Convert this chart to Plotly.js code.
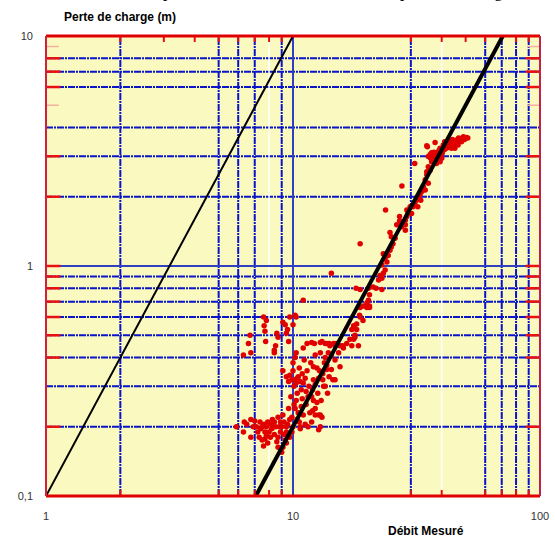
<!DOCTYPE html>
<html><head><meta charset="utf-8">
<script src="https://cdn.plot.ly/plotly-3.0.1.min.js"></script>
<style>html,body{margin:0;padding:0;background:#fff;}#chart{width:555px;height:537px;}</style>
</head><body><div id="chart"></div>
<script>
// ---- data ----
const xTickVals = [1, 10, 100];
const xTickText = ["1", "10", "100"];
const yTickVals = [0.1, 1, 10];
const yTickText = ["0,1", "1", "10"];

const xGridDashed = [2, 5, 6, 7, 9, 30, 60, 70, 80, 90];
const xGridSolid = [10];
const xGridWhite = [8, 40];
const yGridDashed = [0.2, 0.3, 0.4, 0.5, 0.6, 0.7, 0.8, 0.9, 2, 3, 4, 6, 7, 8];
const yGridSolid = [1];

const xTicksBottom = [2, 5, 6, 7, 8, 9, 30, 40, 60, 70, 80, 90];
const xTicksTop = [2, 3, 4, 5, 6, 7, 8, 9, 30, 40, 50, 60, 80, 90];
const yTicksSide = [0.2, 0.4, 0.5, 0.6, 0.7, 0.8, 0.9, 1, 2, 3, 6, 7, 8];
const yTicksFaint = [5, 9];

// reference curves
const curveA_x = [1, 10];
const curveA_y = [0.1, 10];
const curveB_x = [7.07, 70.7];
const curveB_y = [0.1, 10];

// measured points [débit, perte de charge]
const mesures = [
 [5.9,0.2],[6.3,0.19],[6.35,0.21],[6.75,0.215],[6.75,0.18],[7.1,0.2],[7.35,0.21],[7.4,0.196],[7.64,0.205],[7.7,0.19],
 [7.8,0.2],[8.1,0.205],[8.2,0.196],[8.4,0.21],[8.7,0.22],[8.9,0.21],[9.0,0.2],[9.1,0.225],[8.3,0.2],[7.3,0.18],
 [7.5,0.175],[7.7,0.177],[7.8,0.183],[7.6,0.165],[8.1,0.18],[8.6,0.172],[8.7,0.18],[8.7,0.163],[9.0,0.155],[9.1,0.163],
 [9.3,0.175],[9.9,0.19],[9.7,0.18],[9.6,0.186],[8.9,0.19],[7.9,0.21],[6.9,0.2],[7.2,0.19],[8.5,0.2],[9.4,0.19],[9.2,0.21],[8.0,0.19],
 [6.5,0.205],[7.0,0.212],[7.5,0.2],[8.25,0.215],[8.8,0.2],[9.5,0.205],[9.2,0.185],[8.4,0.185],[7.9,0.17],[9.4,0.17],
 [6.7,0.5],[6.6,0.46],[6.75,0.42],[6.3,0.41],[7.64,0.55],[7.8,0.58],[7.7,0.52],[7.75,0.47],[8.6,0.51],[8.4,0.43],
 [8.7,0.49],[9.1,0.57],[9.3,0.555],[9.4,0.51],[9.6,0.47],[10.2,0.61],[10.0,0.555],[8.4,0.42],[10.3,0.6],[8.5,0.45],
 [9.5,0.53],[7.6,0.6],[9.7,0.6],
 [12.1,0.365],[11.4,0.35],[11.2,0.325],[12.1,0.32],[12.7,0.325],[13.3,0.3],[12.3,0.305],[10.8,0.29],[11.5,0.27],[12.1,0.26],
 [12.3,0.24],[10.8,0.245],[11.0,0.225],[12.7,0.225],[13.1,0.22],[12.9,0.2],[11.9,0.21],[11.2,0.205],[10.3,0.26],[10.2,0.24],
 [9.9,0.22],[9.7,0.215],[9.4,0.2],[10.0,0.2],[10.7,0.196],[10.2,0.32],[10.3,0.31],[9.6,0.315],[9.9,0.32],[9.4,0.33],
 [10.0,0.35],[10.2,0.4],[10.0,0.38],[9.1,0.35],[13.7,0.37],[14.3,0.355],[14.5,0.32],[14.8,0.39],
 [11.4,0.46],[11.9,0.465],[12.2,0.46],[12.9,0.465],[13.5,0.46],[14.0,0.46],[11.0,0.44],[10.3,0.42],[12.3,0.41],[12.9,0.42],[13.5,0.4],
 [14.8,0.32],[13.7,0.355],[13.5,0.3],[12.7,0.194],[10.7,0.2],[12.3,0.225],[12.9,0.225],[15.5,0.365],[14.8,0.45],[15.3,0.42],[14.3,0.41],[13.9,0.42],
 [10.5,0.33],[10.9,0.34],[11.6,0.3],[12.6,0.28],[13.0,0.26],[11.3,0.25],[10.5,0.23],[11.8,0.38],[10.6,0.36],[12.5,0.36],
 [13.2,0.34],[11.0,0.31],[10.4,0.28],[9.8,0.27],[10.1,0.25],[12.0,0.29],[13.8,0.28],[11.7,0.23],[10.6,0.21],[13.4,0.38],[11.1,0.39],
 [10.4,0.325],[10.7,0.315],[9.7,0.335],[10.1,0.3],[11.3,0.285],[11.9,0.27],[12.5,0.255],[10.9,0.265],[9.6,0.24],[10.4,0.215],
 [11.5,0.2],[12.0,0.235],[13.2,0.32],[12.8,0.35],[14.0,0.33],
 [11.0,0.71],
 [15.5,0.45],[15.9,0.45],[15.0,0.46],[14.6,0.46],[14.1,0.45],[13.7,0.46],[13.1,0.47],[18.4,0.45],[17.3,0.45],[16.5,0.46],
 [17.0,0.48],[17.6,0.48],[17.8,0.5],[17.3,0.53],[18.1,0.53],[17.6,0.55],[18.1,0.56],[19.2,0.58],[18.6,0.61],[18.7,0.6],
 [19.3,0.67],[18.7,0.66],[19.9,0.66],[20.4,0.66],[19.9,0.69],[20.2,0.71],[20.4,0.75],[20.2,0.8],[21.1,0.81],[21.7,0.8],
 [22.9,0.79],[18.0,0.8],[18.7,0.79],[17.8,0.49],[16.0,0.44],[20.4,0.67],[14.3,0.93],[18.7,1.25],
 [22.2,0.87],[22.9,0.885],[22.5,0.91],[23.2,0.93],[23.6,0.96],[22.9,1.01],[24.0,1.04],[23.6,1.08],[24.3,1.11],[23.2,1.13],
 [24.7,1.17],[25.0,1.21],[25.4,1.25],[25.9,1.32],[25.0,1.34],[24.7,1.4],[28.5,1.43],[26.3,1.51],[28.5,1.51],[27.0,1.57],
 [27.5,1.54],[27.0,1.64],[23.7,1.75],[28.9,1.75],[29.8,1.81],[31.1,1.87],[32.0,1.81],[31.6,1.93],
 [28.0,1.53],[27.5,1.48],[28.5,1.58],[28.9,1.64],[29.2,1.69],[30.2,1.69],[30.6,1.81],[31.1,1.9],[32.1,1.97],[32.9,1.93],
 [32.7,2.04],[33.2,2.11],[34.3,2.14],[33.7,2.22],[35.3,2.29],[34.3,2.37],[34.8,2.49],[34.8,2.57],[35.9,2.61],[35.3,2.7],
 [36.4,2.84],[31.1,2.79],[27.6,2.23],
 [38.1,2.79],[39.4,2.84],[40.0,2.94],[37.6,2.94],[38.8,2.99],[35.3,2.99],[35.9,3.05],[36.9,3.05],[38.1,3.11],[36.4,3.11],
 [34.8,3.33],[37.6,3.44],[35.0,3.3],[41.1,3.47],[43.1,3.41],[44.5,3.36],[45.9,3.53],[47.4,3.58],[48.8,3.62],[50.4,3.62],
 [46.6,3.36],[45.2,3.25],[43.8,3.25],[42.4,3.3],[48.1,3.47],[41.8,3.25],[39.4,3.25],[40.6,3.36],[44.0,3.5],[46.0,3.45],
 [49.5,3.55],[42.0,3.38],[47.0,3.5],[43.0,3.32],[45.0,3.42],[38.5,3.0],[39.5,3.05],[37.0,3.0],[49.0,3.65],[51.0,3.6],[44.8,3.3],[41.0,3.2],
 [36.0,2.95],[37.2,3.12],[39.0,3.18],[40.2,3.1],[42.8,3.45],[46.8,3.6],[44.2,3.55]
];
const debit = mesures.map(p => p[0]);
const perte = mesures.map(p => p[1]);

// ---- styling ----
const shapes = [];
const gridBlue = '#0A14C8';
const dashPattern = '7px,1px,2px,1px';
xGridDashed.forEach(v => shapes.push({type:'line', layer:'below', xref:'x', yref:'paper', x0:v, x1:v, y0:0, y1:1, line:{color:gridBlue, width:2, dash:dashPattern}}));
yGridDashed.forEach(v => shapes.push({type:'line', layer:'below', xref:'paper', yref:'y', x0:0, x1:1, y0:v, y1:v, line:{color:gridBlue, width:2, dash:dashPattern}}));
xGridWhite.forEach(v => shapes.push({type:'line', layer:'below', xref:'x', yref:'paper', x0:v, x1:v, y0:0, y1:1, line:{color:'#FFFFFF', width:1.5}}));
xGridSolid.forEach(v => shapes.push({type:'line', layer:'below', xref:'x', yref:'paper', x0:v, x1:v, y0:0, y1:1, line:{color:'#3040C0', width:2}}));
yGridSolid.forEach(v => shapes.push({type:'line', layer:'below', xref:'paper', yref:'y', x0:0, x1:1, y0:v, y1:v, line:{color:'#3040C0', width:2}}));

const tkX = 6/460, tkY = 8/494;
xTicksBottom.forEach(v => shapes.push({type:'line', xref:'x', yref:'paper', x0:v, x1:v, y0:0, y1:tkX, line:{color:'#E81010', width:2}}));
xTicksTop.forEach(v => shapes.push({type:'line', xref:'x', yref:'paper', x0:v, x1:v, y0:1, y1:1-tkX, line:{color:'#E81010', width:2}}));
yTicksSide.forEach(v => {
  shapes.push({type:'line', xref:'paper', yref:'y', x0:0, x1:tkY*1.8, y0:v, y1:v, line:{color:'#E81010', width:2.5}});
  shapes.push({type:'line', xref:'paper', yref:'y', x0:1, x1:1-tkY*1.8, y0:v, y1:v, line:{color:'#E81010', width:2.5}});
});
yTicksFaint.forEach(v => {
  shapes.push({type:'line', xref:'paper', yref:'y', x0:0, x1:tkY*1.6, y0:v, y1:v, line:{color:'#F4B0A0', width:1.5}});
  shapes.push({type:'line', xref:'paper', yref:'y', x0:1, x1:1-tkY*1.6, y0:v, y1:v, line:{color:'#F4B0A0', width:1.5}});
});
// frame
shapes.push({type:'line', xref:'paper', yref:'paper', x0:0, x1:1, y0:0, y1:0, line:{color:'#E00000', width:3}});
shapes.push({type:'line', xref:'paper', yref:'paper', x0:0, x1:1, y0:1, y1:1, line:{color:'#E00000', width:3}});
shapes.push({type:'line', xref:'paper', yref:'paper', x0:0, x1:0, y0:0, y1:1, line:{color:'#D0203C', width:2}});
shapes.push({type:'line', xref:'paper', yref:'paper', x0:1, x1:1, y0:0, y1:1, line:{color:'#C0204A', width:2}});

const traces = [
  {x: debit, y: perte, type:'scatter', mode:'markers', marker:{color:'#E00000', size:5.5}, hoverinfo:'skip'},
  {x: curveA_x, y: curveA_y, type:'scatter', mode:'lines', line:{color:'#000000', width:2}, hoverinfo:'skip'},
  {x: curveB_x, y: curveB_y, type:'scatter', mode:'lines', line:{color:'#000000', width:4}, hoverinfo:'skip'}
];

const tickFont = {family:'Liberation Sans, Arial, sans-serif', size:11, color:'#333333'};
const layout = {
  width:555, height:537,
  margin:{l:46, r:15, t:36, b:41, pad:0},
  paper_bgcolor:'#FFFFFF', plot_bgcolor:'#FAFAC0',
  showlegend:false, hovermode:false,
  separators:',.',
  xaxis:{type:'log', range:[0,2], tickmode:'array', tickvals:xTickVals, ticktext:xTickText, ticks:'', showgrid:false, zeroline:false, showline:false, tickfont:tickFont, ticklabelstandoff:12, fixedrange:true},
  yaxis:{type:'log', range:[-1,1], tickmode:'array', tickvals:yTickVals, ticktext:yTickText, ticks:'', showgrid:false, zeroline:false, showline:false, tickfont:tickFont, ticklabelstandoff:12, fixedrange:true},
  shapes: shapes,
  annotations:[
    {text:'<b>Perte de charge (m)</b>', xref:'paper', yref:'paper', x:(62-46)/494, y:1+(36-17)/460, xanchor:'left', yanchor:'middle', showarrow:false, font:{family:'Liberation Sans, Arial, sans-serif', size:12, color:'#000'}},
    {text:'<b>Débit Mesuré</b>', xref:'paper', yref:'paper', x:(386-46)/494, y:-(531-496)/460, xanchor:'left', yanchor:'middle', showarrow:false, font:{family:'Liberation Sans, Arial, sans-serif', size:12, color:'#000'}},
    {text:'Comparaison des débits mesurés et des pertes de charge', xref:'paper', yref:'paper', x:(128-46)/494, y:1+(36-3)/460, xanchor:'left', yanchor:'bottom', showarrow:false, font:{family:'Liberation Serif, Times New Roman, serif', size:17, color:'#000'}}
  ]
};
Plotly.newPlot('chart', traces, layout, {staticPlot:true, displayModeBar:false});
</script></body></html>
